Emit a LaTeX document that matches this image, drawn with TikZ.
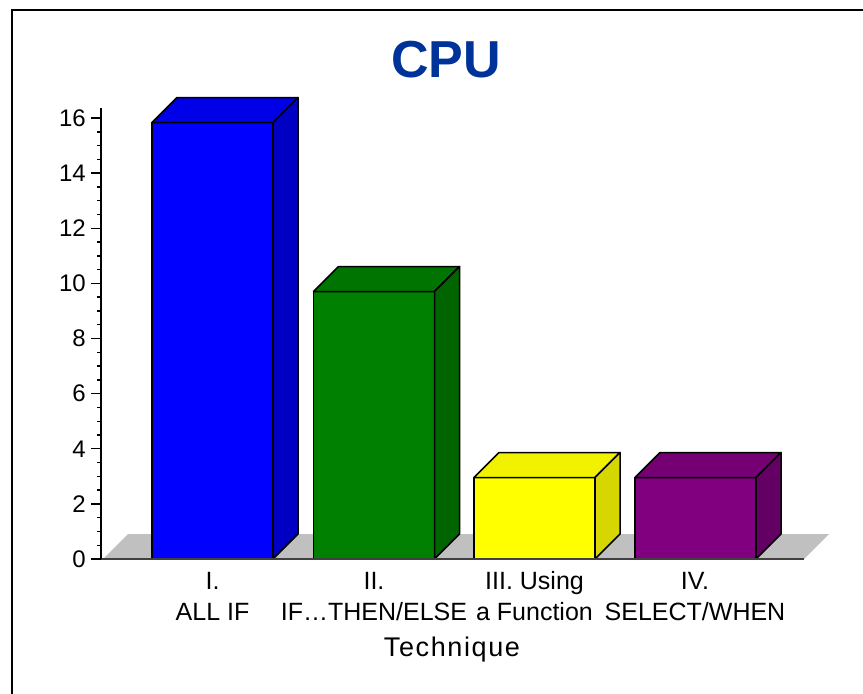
\documentclass[tikz,border=0pt]{standalone}
\usepackage{fontspec}
\setmainfont{Liberation Sans}
\definecolor{titleblue}{RGB}{0,51,153}
\definecolor{floorgray}{RGB}{192,192,192}
\definecolor{axisgray}{RGB}{64,64,64}
\definecolor{blueF}{RGB}{0,0,255}
\definecolor{blueT}{RGB}{0,0,232}
\definecolor{blueS}{RGB}{0,0,196}
\definecolor{greenF}{RGB}{0,128,0}
\definecolor{greenT}{RGB}{0,116,0}
\definecolor{greenS}{RGB}{0,100,0}
\definecolor{yellowF}{RGB}{255,255,0}
\definecolor{yellowT}{RGB}{242,242,0}
\definecolor{yellowS}{RGB}{214,214,0}
\definecolor{purpleF}{RGB}{128,0,128}
\definecolor{purpleT}{RGB}{116,0,116}
\definecolor{purpleS}{RGB}{100,0,100}
\tikzset{
  face/.style={draw=black, line width=1.5pt, line join=round},
  ticklabel/.style={anchor=east, inner sep=0pt, font=\fontsize{24}{24}\selectfont},
  catlabel/.style={anchor=base, inner sep=0pt, font=\fontsize{25}{25}\selectfont},
}
\begin{document}
\begin{tikzpicture}[x=1pt, y=-1pt]
  \useasboundingbox (0,0) rectangle (863,694);
  \fill[white] (0,0) rectangle (863,694);
  % outer frame (left and top edges)
  \draw[line width=2.2pt] (12,694) -- (12,10) -- (863,10);

  % title
  \node[anchor=base, inner sep=0pt, text=titleblue,
        font=\fontsize{52}{52}\selectfont\bfseries] (title) at (446,77) {CPU};

  % floor of the chart
  \fill[floorgray] (103,559) -- (804,559) -- (829,534) -- (128,534) -- cycle;

  % bars: left edge, top of front face, colours
  \def\depth{25}
  \def\wid{121}
  \foreach \xl/\yt/\cf/\ct/\cs in {152/122.5/blueF/blueT/blueS,
                                   313.5/291.5/greenF/greenT/greenS,
                                   474/477.5/yellowF/yellowT/yellowS,
                                   635/477.5/purpleF/purpleT/purpleS}{
    \pgfmathsetmacro{\xr}{\xl+\wid}
    \filldraw[face, fill=\cf] (\xl,559) rectangle (\xr,\yt);
    \filldraw[face, fill=\ct] (\xl,\yt) -- ++(\depth,-\depth) -- ++(\wid,0) -- (\xr,\yt) -- cycle;
    \filldraw[face, fill=\cs] (\xr,559) -- (\xr,\yt) -- ++(\depth,-\depth) -- ++(0,{559-\yt}) -- cycle;
  }

  % axes
  \draw[axisgray, line width=1.6pt] (91,559) -- (804,559);
  \draw[black, line width=1.6pt] (101,559) -- (101,108);
  \foreach \v in {0.5,1,...,16}
    \draw[black, line width=1.4pt] (97,{559-27.56*\v}) -- (101,{559-27.56*\v});
  \foreach \v in {0,2,...,16}{
    \draw[black, line width=1.4pt] (91,{559-27.56*\v}) -- (101,{559-27.56*\v});
    \node[ticklabel] (t\v) at (86,{559-27.56*\v}) {\v};
  }

  % category labels
  \node[catlabel] (c1a) at (212.5,589) {I.};
  \node[catlabel] (c1b) at (212.5,620) {ALL IF};
  \node[catlabel] (c2a) at (374,589) {II.};
  \node[catlabel] (c2b) at (374,620) {IF\ldots THEN/ELSE};
  \node[catlabel] (c3a) at (534.5,589) {III. Using};
  \node[catlabel] (c3b) at (534.5,620) {a Function};
  \node[catlabel] (c4a) at (695,589) {IV.};
  \node[catlabel] (c4b) at (695,620) {SELECT/WHEN};

  % axis title
  \node[anchor=base, inner sep=0pt,
        font=\fontsize{27}{27}\selectfont\addfontfeature{LetterSpace=6}] (xtitle) at (452,656) {Technique};
\end{tikzpicture}
\end{document}
